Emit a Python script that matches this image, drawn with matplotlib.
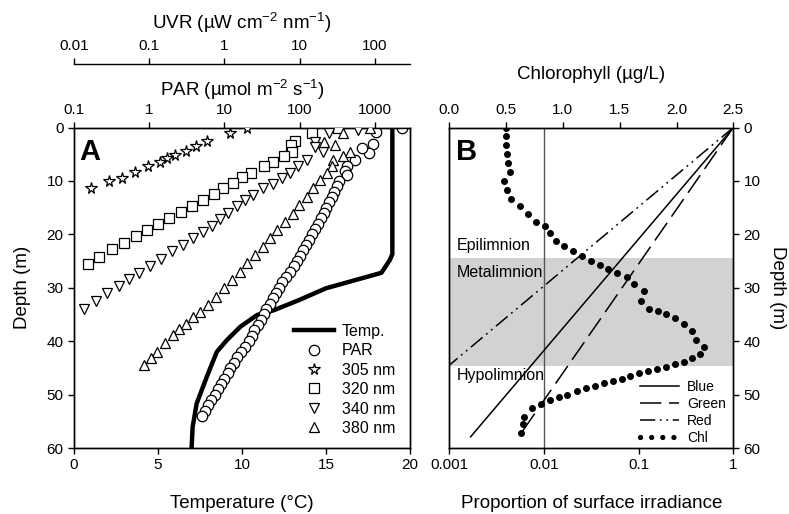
import numpy as np
import matplotlib.pyplot as plt
from matplotlib.lines import Line2D
from matplotlib.ticker import NullLocator

plt.rcParams['font.family'] = ['Liberation Sans', 'DejaVu Sans']
plt.rcParams['mathtext.default'] = 'regular'
plt.rcParams['axes.linewidth'] = 1.0
plt.rcParams['xtick.major.width'] = 1.0
plt.rcParams['ytick.major.width'] = 1.0

# ---- Panel A data ----
temp_depth = [0, 23.7, 24.8, 27.2, 30.1, 32.3, 34.2, 35.1, 37.3, 39.8, 42, 46.7, 51.7, 56.1, 60]
temp = [18.95, 18.95, 18.8, 18.3, 15.0, 13.4, 11.9, 10.9, 9.9, 9.1, 8.5, 7.9, 7.3, 7.06, 7.0]

par_depth = [0, 0.8, 3.0, 4.8, 3.9, 6.1, 7.2, 8.1, 8.9,
             10, 11, 12, 13, 14, 15, 16, 17, 18, 19, 20, 21, 22, 23, 24, 25, 26, 27, 28, 29,
             30, 31, 32, 33, 34, 35, 36, 37, 38, 39, 40, 41, 42, 43, 44, 45, 46, 47, 48, 49,
             50, 51, 52, 53, 54]
par = [2280, 1037, 955, 845, 670, 546, 423, 402, 423,
       339, 316, 288, 269, 245, 224, 209, 191, 178, 162, 148, 135, 123, 112, 102, 93, 83, 74, 66, 59,
       54, 48, 44, 40, 36, 34, 31, 28, 25, 23, 21, 18.6, 16.6, 14.8, 13.5, 12.0, 11.0, 10.0, 9.1, 8.3,
       7.4, 6.6, 6.0, 5.5, 5.0]

uv305_depth = [0, 1, 2.5, 3.4, 4.4, 5.1, 5.8, 6.4, 7.3, 8.3, 9.4, 10.1, 11.4]
uv305 = [1.98, 1.19, 0.58, 0.42, 0.31, 0.22, 0.174, 0.139, 0.097, 0.065, 0.043, 0.029, 0.017]

uv320_depth = [0, 1, 2.5, 3.3, 4.5, 5.3, 6.4, 7.3, 8.5, 9.3, 10.3, 11.4, 12.5, 13.6, 14.7, 15.8,
               17, 18.1, 19.2, 20.3, 21.6, 22.8, 24.2, 25.6]
uv320 = [32.7, 14.8, 8.7, 7.6, 7.85, 6.2, 4.47, 3.36, 2.24, 1.70, 1.31, 0.966, 0.728, 0.514, 0.367,
         0.265, 0.183, 0.130, 0.0944, 0.0667, 0.0462, 0.0317, 0.0217, 0.0155]

uv340_depth = [0.4, 1, 2.7, 3.7, 4.5, 6, 7.3, 8.6, 9.5, 10.5, 11.4, 12.6, 13.6, 14.7, 16, 17.2, 18.4,
               19.5, 20.7, 22, 23.2, 24.7, 25.9, 27.2, 28.4, 29.7, 30.9, 32.4, 34]
uv340 = [60, 24.8, 16.0, 16.0, 20.7, 12.4, 9.5, 7.45, 5.78, 4.39, 3.23, 2.38, 1.88, 1.46, 1.13, 0.873,
         0.678, 0.514, 0.385, 0.279, 0.199, 0.144, 0.103, 0.0738, 0.0543, 0.040, 0.0272, 0.0196, 0.0136]

uv380_depth = [0, 1.1, 2.7, 3.3, 4.5, 5.3, 6.1, 7.3, 8.6, 9.8, 11.4, 13, 14.5, 16.1, 17.6, 19.2, 20.7,
               22.3, 23.9, 25.4, 27, 28.6, 30.1, 31.7, 33.2, 34.5, 35.5, 36.7, 37.8, 38.9, 40.4, 42,
               43.2, 44.5]
uv380 = [86, 37.4, 21.3, 29.6, 46.8, 37.4, 28.1, 26.7, 22.9, 18.7, 15.2, 12.4, 9.9, 8.1, 6.4, 5.05,
         4.04, 3.23, 2.55, 2.02, 1.61, 1.25, 0.99, 0.773, 0.611, 0.474, 0.382, 0.308, 0.251, 0.206,
         0.162, 0.128, 0.105, 0.0853]

# ---- Panel B data ----
blue_depth = [0, 57.9]
blue = [1.0, 0.00168]
green_depth = [0, 57.9]
green = [1.0, 0.0054]
red_depth = [0, 44.5]
red = [1.0, 0.001]

chl_depth = [0, 1.6, 3.3, 5, 6.7, 8.4, 10, 11.7, 13.3, 14.7, 16.2, 17.6, 18.4, 19.8, 21.2, 22.2, 23.1,
             24.1, 24.9, 25.7, 26.4, 27.2, 27.9, 29.3, 30.7, 32.4, 33.9, 34.3, 34.9, 35.7, 36.8, 38.1,
             39.8, 41, 42.4, 43.1, 43.9, 44.3, 44.8, 45.2, 45.6, 46, 46.5, 47.1, 47.5, 47.9, 48.4,
             48.8, 49.3, 50, 50.4, 51, 51.7, 52.5, 54.2, 55.5, 57.2]
chl = [0.5, 0.5, 0.5, 0.505, 0.52, 0.53, 0.48, 0.505, 0.54, 0.62, 0.69, 0.76, 0.84, 0.89, 0.94, 1.01,
       1.09, 1.17, 1.25, 1.33, 1.40, 1.48, 1.56, 1.63, 1.71, 1.69, 1.76, 1.84, 1.91, 1.99, 2.07, 2.14,
       2.17, 2.24, 2.21, 2.14, 2.07, 1.99, 1.91, 1.83, 1.75, 1.67, 1.59, 1.52, 1.44, 1.36, 1.28,
       1.20, 1.12, 1.04, 0.97, 0.89, 0.81, 0.73, 0.66, 0.65, 0.63]

meta_top, meta_bottom = 24.4, 44.6

depth_ticks = [0, 10, 20, 30, 40, 50, 60]
temp_ticks = [0, 5, 10, 15, 20]
par_ticks = [0.1, 1, 10, 100, 1000]
par_ticklabels = ['0.1', '1', '10', '100', '1000']
uvr_ticks = [0.01, 0.1, 1, 10, 100]
uvr_ticklabels = ['0.01', '0.1', '1', '10', '100']
prop_ticks = [0.001, 0.01, 0.1, 1]
prop_ticklabels = ['0.001', '0.01', '0.1', '1']
chl_ticks = [0, 0.5, 1.0, 1.5, 2.0, 2.5]
chl_ticklabels = ['0.0', '0.5', '1.0', '1.5', '2.0', '2.5']

TICK = 11
LAB = 13.5
W, H = 789, 514

fig = plt.figure(figsize=(7.89, 5.14), dpi=100)


def frac(l, t, r, b):
    return [l / W, 1 - b / H, (r - l) / W, (b - t) / H]


def tickstyle(a):
    a.tick_params(direction='out', length=4.5, labelsize=TICK, pad=3)


# ---------------- Panel A ----------------
ax = fig.add_axes(frac(74, 127.5, 410, 448))
ax.plot(temp, temp_depth, color='k', lw=3.2, solid_capstyle='butt', zorder=1)
ax.set_xlim(0, 20)
ax.set_ylim(60, 0)
ax.set_xticks(temp_ticks)
ax.set_yticks(depth_ticks)
ax.set_xlabel('Temperature (°C)', fontsize=LAB, labelpad=16)
ax.set_ylabel('Depth (m)', fontsize=LAB, labelpad=11)
tickstyle(ax)

ax_par = ax.twiny()
ax_par.set_xscale('log')
ax_par.set_xlim(0.1, 10 ** (-1 + 336 / 75.2))
ax_par.set_xticks(par_ticks, labels=par_ticklabels)
ax_par.xaxis.set_minor_locator(NullLocator())
ax_par.set_xlabel('PAR (µmol m$^{-2}$ s$^{-1}$)', fontsize=LAB, labelpad=5)
tickstyle(ax_par)
ax_par.plot(par, par_depth, ls='none', marker='o', ms=7.5, mfc='white', mec='k', mew=0.9)

ax_uv = ax.twiny()
ax_uv.set_xscale('log')
ax_uv.set_xlim(0.01, 10 ** (-2 + 336 / 75.2))
ax_uv.spines['top'].set_position(('outward', 46))
for s in ['left', 'right', 'bottom']:
    ax_uv.spines[s].set_visible(False)
ax_uv.set_xticks(uvr_ticks, labels=uvr_ticklabels)
ax_uv.xaxis.set_minor_locator(NullLocator())
ax_uv.set_xlabel('UVR (µW cm$^{-2}$ nm$^{-1}$)', fontsize=LAB, labelpad=7)
tickstyle(ax_uv)
mk = dict(ls='none', mfc='white', mec='k', mew=0.9)
ax_uv.plot(uv305, uv305_depth, marker='*', ms=8.5, **mk)
ax_uv.plot(uv320, uv320_depth, marker='s', ms=6.8, **mk)
ax_uv.plot(uv340, uv340_depth, marker='v', ms=7.5, **mk)
ax_uv.plot(uv380, uv380_depth, marker='^', ms=7.5, **mk)

handles_a = [Line2D([], [], color='k', lw=3.2),
             Line2D([], [], marker='o', ms=7.5, **mk),
             Line2D([], [], marker='*', ms=8.5, **mk),
             Line2D([], [], marker='s', ms=6.8, **mk),
             Line2D([], [], marker='v', ms=7.5, **mk),
             Line2D([], [], marker='^', ms=7.5, **mk)]
labels_a = ['Temp.', 'PAR', '305 nm', '320 nm', '340 nm', '380 nm']
ax_uv.legend(handles_a, labels_a, loc='upper left', bbox_to_anchor=(0.655, 0.388),
             frameon=False, fontsize=11.5, handlelength=2.5, handletextpad=0.5,
             labelspacing=0.28, borderpad=0, borderaxespad=0)
ax_uv.text(0.016, 0.9, 'A', transform=ax_uv.transAxes, fontsize=21, fontweight='bold',
           va='baseline', ha='left')

# ---------------- Panel B ----------------
ax2 = fig.add_axes(frac(449.3, 127.5, 733.3, 448))
ax2.set_xscale('log')
ax2.set_xlim(0.001, 1)
ax2.set_ylim(60, 0)
ax2.axhspan(meta_top, meta_bottom, color='#d2d2d2', lw=0, zorder=0)
ax2.axvline(0.01, color='#555555', lw=1.0, zorder=1)
ax2.plot(blue, blue_depth, color='k', lw=1.1, label='Blue')
ax2.plot(green, green_depth, color='k', lw=1.1, ls=(0, (14, 5)), label='Green')
ax2.plot(red, red_depth, color='k', lw=1.1, ls=(0, (10, 3, 1.2, 3, 1.2, 3)), label='Red')
ax2.set_xticks(prop_ticks, labels=prop_ticklabels)
ax2.xaxis.set_minor_locator(NullLocator())
ax2.set_yticks(depth_ticks)
ax2.yaxis.tick_right()
ax2.yaxis.set_label_position('right')
ax2.set_ylabel('Depth (m)', fontsize=LAB, rotation=270, labelpad=18)
ax2.set_xlabel('Proportion of surface irradiance', fontsize=LAB, labelpad=16)
tickstyle(ax2)
ax2.text(0.027, (60 - 22) / 60, 'Epilimnion', transform=ax2.transAxes, fontsize=11.5, va='center')
ax2.text(0.027, (60 - 27.2) / 60, 'Metalimnion', transform=ax2.transAxes, fontsize=11.5, va='center')
ax2.text(0.027, (60 - 46.4) / 60, 'Hypolimnion', transform=ax2.transAxes, fontsize=11.5, va='center')

ax_chl = ax2.twiny()
ax_chl.set_xlim(0, 2.5)
ax_chl.set_xticks(chl_ticks, labels=chl_ticklabels)
ax_chl.set_xlabel('Chlorophyll (µg/L)', fontsize=LAB, labelpad=17)
tickstyle(ax_chl)
ax_chl.plot(chl, chl_depth, ls='none', marker='o', ms=4.0, color='k')

handles_b = ax2.get_lines()[1:4] + [Line2D([], [], color='k', lw=3.8, ls=(0, (0.01, 2.1)),
                                           dash_capstyle='round')]
ax_chl.legend(handles_b, ['Blue', 'Green', 'Red', 'Chl'], loc='upper left',
              bbox_to_anchor=(0.672, 0.212), frameon=False, fontsize=10, handlelength=2.8,
              handletextpad=0.6, labelspacing=0.22, borderpad=0, borderaxespad=0)
ax_chl.text(0.025, 0.9, 'B', transform=ax_chl.transAxes, fontsize=21, fontweight='bold',
            va='baseline', ha='left')

fig.savefig('out.png', dpi=100)
